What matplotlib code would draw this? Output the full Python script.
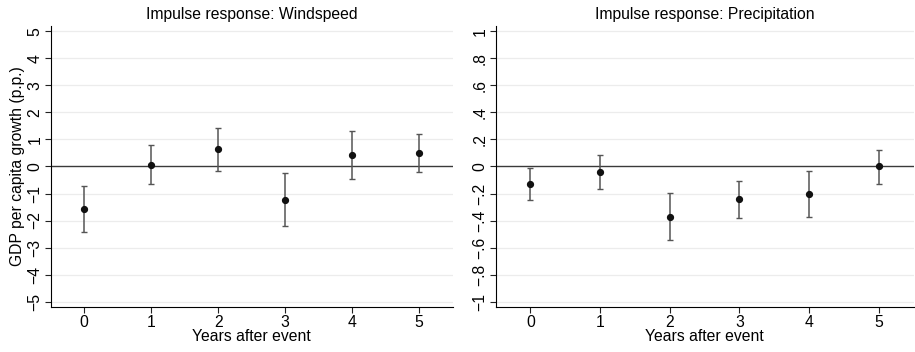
import numpy as np
import matplotlib.pyplot as plt

plt.rcParams["font.family"] = ["Liberation Sans", "DejaVu Sans"]

# data
years = [0, 1, 2, 3, 4, 5]

wind_est = [-1.58, 0.07, 0.64, -1.23, 0.41, 0.50]
wind_hi = [-0.74, 0.78, 1.43, -0.25, 1.30, 1.19]
wind_lo = [-2.42, -0.64, -0.16, -2.22, -0.47, -0.21]

prec_est = [-0.131, -0.042, -0.373, -0.242, -0.205, 0.0]
prec_hi = [-0.012, 0.084, -0.198, -0.106, -0.037, 0.123]
prec_lo = [-0.250, -0.168, -0.546, -0.378, -0.375, -0.126]

wind_ticks = [-5, -4, -3, -2, -1, 0, 1, 2, 3, 4, 5]
wind_labels = ["\u22125", "\u22124", "\u22123", "\u22122", "\u22121", "0", "1", "2", "3", "4", "5"]
prec_ticks = [-1, -0.8, -0.6, -0.4, -0.2, 0, 0.2, 0.4, 0.6, 0.8, 1]
prec_labels = ["\u22121", "\u2212.8", "\u2212.6", "\u2212.4", "\u2212.2", "0", ".2", ".4", ".6", ".8", "1"]

fs = 11.3

fig = plt.figure(figsize=(9.15, 3.52), dpi=100)
ax1 = fig.add_axes([0.0554, 0.128, 0.4393, 0.798])
ax2 = fig.add_axes([0.5417, 0.128, 0.4568, 0.798])


def draw(ax, est, lo, hi, ticks, labels, lim, title):
    est = np.array(est)
    err = [est - np.array(lo), np.array(hi) - est]
    for t in ticks:
        if t != 0:
            ax.axhline(t, color="#ececec", lw=0.9, zorder=0)
    ax.axhline(0, color="#3a3a3a", lw=1.0, zorder=1)
    ax.errorbar(years, est, yerr=err, fmt="none", ecolor="#555555",
                elinewidth=1.1, capsize=2.5, capthick=1.0, zorder=2)
    ax.plot(years, est, "o", color="#111111", ms=4.2, zorder=3)
    ax.set_xlim(-0.5, 5.5)
    ax.set_ylim(-lim, lim)
    ax.set_xticks(years)
    ax.set_yticks(ticks)
    ax.set_yticklabels(labels, rotation=90, va="center")
    ax.tick_params(labelsize=fs, length=4, width=0.8, color="#222222", pad=2)
    ax.spines["top"].set_visible(False)
    ax.spines["right"].set_visible(False)
    ax.set_xlabel("Years after event", fontsize=fs, labelpad=-1)
    ax.set_title(title, fontsize=fs, pad=5)


draw(ax1, wind_est, wind_lo, wind_hi, wind_ticks, wind_labels, 5.2,
     "Impulse response: Windspeed")
draw(ax2, prec_est, prec_lo, prec_hi, prec_ticks, prec_labels, 1.04,
     "Impulse response: Precipitation")
ax1.set_ylabel("GDP per capita growth (p.p.)", fontsize=fs, labelpad=2)

fig.savefig("out.png", dpi=100)
